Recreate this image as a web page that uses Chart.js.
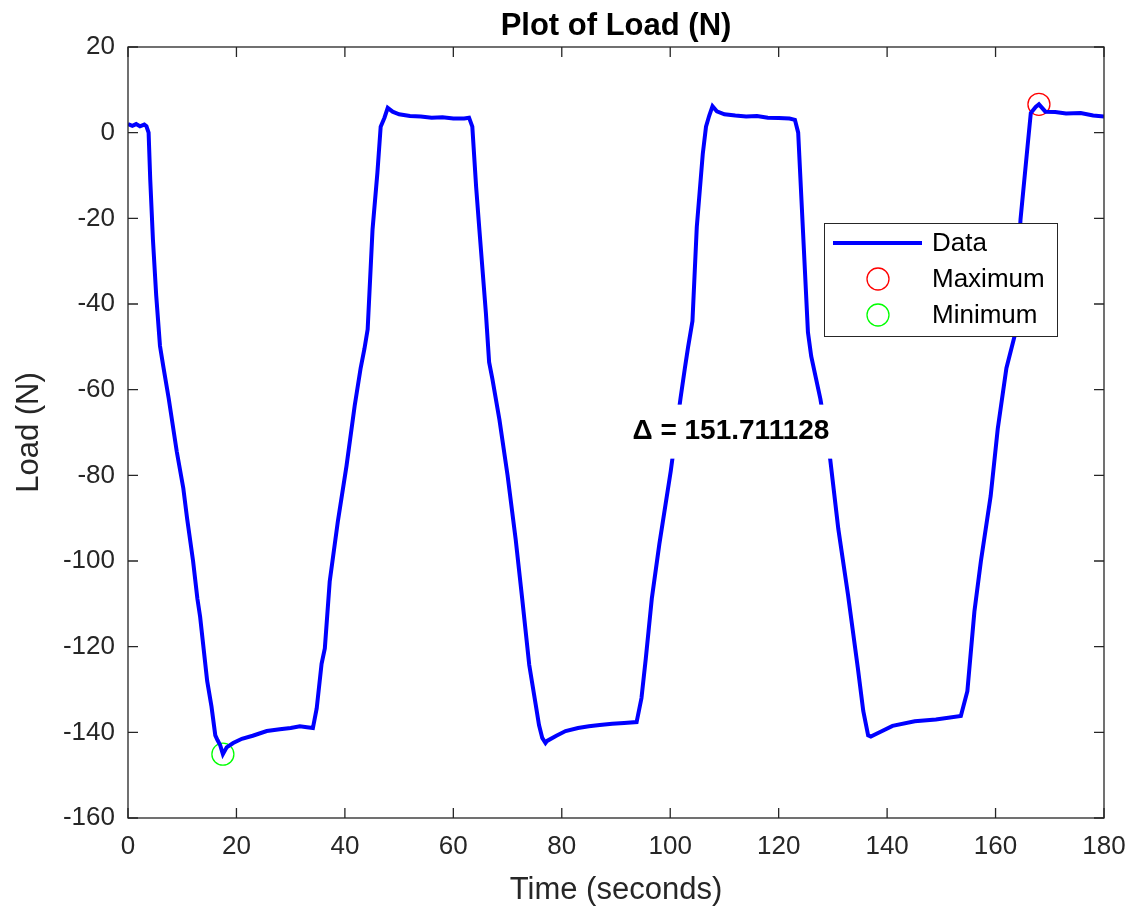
<!DOCTYPE html>
<html>
<head>
<meta charset="utf-8">
<title>Plot of Load (N)</title>
<script src="https://cdn.jsdelivr.net/npm/chart.js@4.4.1/dist/chart.umd.min.js"></script>
<style>
  body { margin: 0; background: #fff; }
  #wrap { width: 1135px; height: 920px; }
</style>
</head>
<body>
<div id="wrap"><canvas id="loadChart" width="1135" height="920"></canvas></div>
<script>
// values
const timeSec = [
  0, 0.8, 1.5, 2.2, 3.0, 3.4, 3.8, 4.1, 4.6, 5.2, 5.9, 6.5, 7.5, 9.0, 10.2, 10.9, 12.0, 12.8, 13.3, 14.6,
  15.4, 16.1, 16.5, 17.0, 17.5, 18.2, 19.4, 21, 23, 25.6, 28, 30, 31.7, 33, 34.1, 34.8, 35.7, 36.3, 37.2, 38.7,
  40.3, 41.8, 42.9, 43.6, 44.2, 45.1, 46.0, 46.6, 47.3, 47.9, 48.8, 50, 52, 54, 56, 58, 60, 62, 62.9, 63.5,
  64.2, 64.8, 66.0, 66.6, 67.2, 68.5, 70, 71.5, 72.7, 74.0, 75.2, 75.8, 76.4, 77.0, 77.3, 79, 80.7, 83, 85, 87,
  89.3, 91.5, 93.8, 94.7, 95.5, 96.0, 96.6, 98, 100.1, 101.9, 102.7, 103.3, 104.1, 104.9, 106.0, 106.6, 107.2, 107.8, 108.6, 110,
  112, 114, 116, 118, 120, 122, 123.0, 123.6, 124.2, 125.4, 126.0, 127.7, 129.5, 131.0, 132.8, 134.6, 135.6, 136.5, 137.0, 138.9,
  141, 145.1, 149, 153.6, 154.8, 156.1, 157.3, 159.1, 160.4, 162, 163.5, 164.6, 165.9, 166.5, 167.4, 168.0, 169.2, 171, 173, 175.7,
  178, 180
];
const loadN = [
  2.0, 1.6, 2.0, 1.5, 1.9, 1.5, 0, -10.9, -25, -38, -49.8, -54.5, -62, -74.5, -83, -90.1, -100, -108.8, -113, -128,
  -134, -140.7, -141.8, -143, -145.1, -143.5, -142.5, -141.5, -140.8, -139.7, -139.3, -139, -138.6, -138.8, -139, -134.4, -124, -120.4, -104.8, -90.8,
  -77.8, -63.8, -55, -50.5, -45.9, -22.6, -9.3, 1.4, 3.5, 5.8, 4.9, 4.3, 3.9, 3.8, 3.5, 3.6, 3.3, 3.3, 3.5, 1.4,
  -12.6, -22.6, -42, -53.6, -57.5, -67, -80, -95, -108.8, -124.3, -133.6, -138.3, -141.3, -142.5, -142, -140.8, -139.7, -139, -138.6, -138.3,
  -138, -137.8, -137.6, -132, -122.7, -116.4, -108.8, -96, -79, -62, -55, -50, -44, -22, -5, 1.4, 4, 6.2, 5.0, 4.3,
  4.0, 3.8, 3.9, 3.5, 3.4, 3.3, 3.0, 0, -15.6, -46.6, -52.2, -62.2, -76.2, -92.5, -108, -125, -135, -140.7, -141, -139.8,
  -138.5, -137.4, -137, -136.2, -130.4, -111.8, -100, -84.8, -69.2, -55, -47.5, -20.3, -3.2, 4.6, 6.0, 6.611128, 4.9, 4.8, 4.5, 4.6,
  4.0, 3.8
];
const maxPoint = [168.0, 6.611128];
const minPoint = [17.5, -145.1];
const xTicks = [0, 20, 40, 60, 80, 100, 120, 140, 160, 180];
const yTicks = [-160, -140, -120, -100, -80, -60, -40, -20, 0, 20];

const FONT = '"Liberation Sans", Arial, Helvetica, sans-serif';
const AXIS_COLOR = '#262626';

// MATLAB-like look: box, inward ticks, title, delta text, legend inside the axes
const matlabLook = {
  id: 'matlabLook',
  afterDatasetsDraw(chart) {
    const ctx = chart.ctx;
    const area = chart.chartArea;
    const xs = chart.scales.x, ys = chart.scales.y;
    ctx.save();

    // delta label with white background
    const delta = (maxPoint[1] - minPoint[1]).toFixed(6);
    const label = '\u0394 = ' + delta;
    ctx.font = 'bold 28px ' + FONT;
    const tx = xs.getPixelForValue(111.2), ty = ys.getPixelForValue(-69.8);
    const w = ctx.measureText(label).width;
    ctx.fillStyle = '#fff';
    ctx.fillRect(tx - w / 2 - 8, ty - 27, w + 16, 54);
    ctx.fillStyle = '#000';
    ctx.textAlign = 'center';
    ctx.textBaseline = 'middle';
    ctx.fillText(label, tx, ty);

    // legend box
    const ds = chart.data.datasets;
    const lx = 824, ly = 223, lw = 233, lh = 113;
    ctx.fillStyle = '#fff';
    ctx.fillRect(lx, ly, lw, lh);
    ctx.strokeStyle = AXIS_COLOR;
    ctx.lineWidth = 1;
    ctx.strokeRect(lx + 0.5, ly + 0.5, lw, lh);
    ctx.font = '26px ' + FONT;
    ctx.textAlign = 'left';
    ds.forEach((d, i) => {
      const ry = ly + 20 + i * 36;
      if (d.showLine === false) {
        ctx.beginPath();
        ctx.arc(878, ry, d.pointRadius, 0, Math.PI * 2);
        ctx.strokeStyle = d.pointBorderColor;
        ctx.lineWidth = d.pointBorderWidth;
        ctx.stroke();
      } else {
        ctx.beginPath();
        ctx.moveTo(833, ry);
        ctx.lineTo(922, ry);
        ctx.strokeStyle = d.borderColor;
        ctx.lineWidth = d.borderWidth;
        ctx.stroke();
      }
      ctx.fillStyle = '#000';
      ctx.fillText(d.label, 932, ry + 1);
    });

    // axes box and inward ticks
    ctx.strokeStyle = AXIS_COLOR;
    ctx.lineWidth = 1.3;
    ctx.strokeRect(area.left, area.top, area.right - area.left, area.bottom - area.top);
    ctx.beginPath();
    const tl = 10;
    xTicks.forEach(v => {
      const px = xs.getPixelForValue(v);
      ctx.moveTo(px, area.bottom); ctx.lineTo(px, area.bottom - tl);
      ctx.moveTo(px, area.top); ctx.lineTo(px, area.top + tl);
    });
    yTicks.forEach(v => {
      const py = ys.getPixelForValue(v);
      ctx.moveTo(area.left, py); ctx.lineTo(area.left + tl, py);
      ctx.moveTo(area.right, py); ctx.lineTo(area.right - tl, py);
    });
    ctx.stroke();

    // title
    ctx.font = 'bold 31px ' + FONT;
    ctx.fillStyle = '#000';
    ctx.textAlign = 'center';
    ctx.textBaseline = 'alphabetic';
    ctx.fillText('Plot of Load (N)', (area.left + area.right) / 2, 35);
    ctx.restore();
  }
};

const ctx = document.getElementById('loadChart').getContext('2d');
const loadChart = new Chart(ctx, {
  type: 'line',
  data: {
    datasets: [{
      label: 'Data',
      data: timeSec.map((t, i) => ({ x: t, y: loadN[i] })),
      borderColor: '#0000ff',
      borderWidth: 4,
      pointRadius: 0,
      tension: 0,
      fill: false
    }, {
      label: 'Maximum',
      data: [{ x: maxPoint[0], y: maxPoint[1] }],
      showLine: false,
      pointRadius: 11,
      pointBorderWidth: 1.3,
      pointBorderColor: '#ff0000',
      pointBackgroundColor: 'rgba(0,0,0,0)'
    }, {
      label: 'Minimum',
      data: [{ x: minPoint[0], y: minPoint[1] }],
      showLine: false,
      pointRadius: 11,
      pointBorderWidth: 1.3,
      pointBorderColor: '#00ff00',
      pointBackgroundColor: 'rgba(0,0,0,0)'
    }]
  },
  options: {
    responsive: false,
    animation: false,
    events: [],
    layout: { padding: { top: 47, right: 31, left: 0, bottom: 0 } },
    plugins: {
      legend: { display: false },
      title: { display: false },
      tooltip: { enabled: false }
    },
    scales: {
      x: {
        type: 'linear',
        min: 0,
        max: 180,
        afterBuildTicks: s => { s.ticks = xTicks.map(v => ({ value: v })); },
        afterFit: s => { s.height = 102; s.paddingLeft = 0; s.paddingRight = 0; },
        grid: { display: false, drawTicks: false },
        border: { display: false },
        ticks: { color: AXIS_COLOR, padding: 13, maxRotation: 0, font: { family: FONT, size: 26 } },
        title: { display: true, text: 'Time (seconds)', color: AXIS_COLOR, padding: { bottom: 11 }, font: { family: FONT, size: 31 } }
      },
      y: {
        type: 'linear',
        min: -160,
        max: 20,
        afterBuildTicks: s => { s.ticks = yTicks.map(v => ({ value: v })); },
        afterFit: s => { s.width = 128; s.paddingTop = 0; s.paddingBottom = 0; },
        grid: { display: false, drawTicks: false },
        border: { display: false },
        ticks: { color: AXIS_COLOR, padding: 13, font: { family: FONT, size: 26 } },
        title: { display: true, text: 'Load (N)', color: AXIS_COLOR, padding: { top: 11 }, font: { family: FONT, size: 31 } }
      }
    }
  },
  plugins: [matlabLook]
});
</script>
</body>
</html>
